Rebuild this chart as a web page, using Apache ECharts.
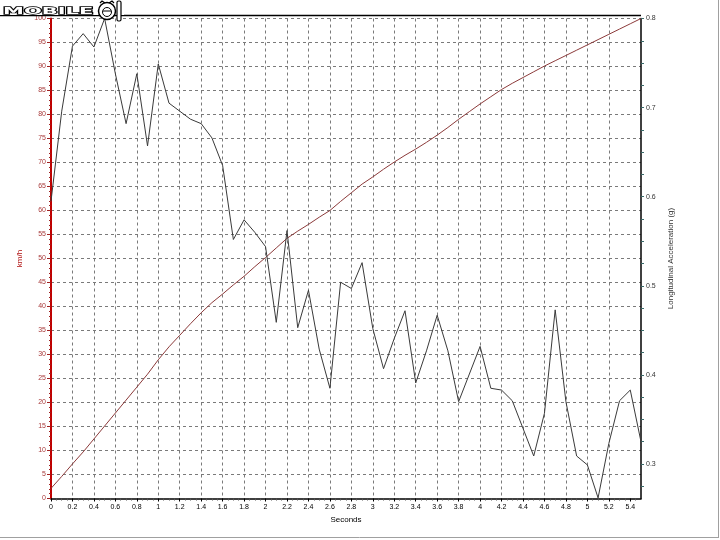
<!DOCTYPE html>
<html><head><meta charset="utf-8">
<script src="https://cdn.jsdelivr.net/npm/echarts@6/dist/echarts.min.js"></script>
<style>html,body{margin:0;padding:0;background:#fff}#c{width:720px;height:540px}</style>
</head><body><div id="c"></div>
<script>
// time samples (seconds)
const timeSec = [0,0.1,0.2,0.3,0.4,0.5,0.6,0.7,0.8,0.9,1.0,1.1,1.2,1.3,1.4,1.5,1.6,1.7,1.8,1.9,
  2.0,2.1,2.2,2.3,2.4,2.5,2.6,2.7,2.8,2.9,3.0,3.1,3.2,3.3,3.4,3.5,3.6,3.7,3.8,3.9,
  4.0,4.1,4.2,4.3,4.4,4.5,4.6,4.7,4.8,4.9,5.0,5.1,5.2,5.3,5.4,5.5];
// speed (km/h), left axis
const speedKmh = [2.1,4.6,7.2,9.7,12.4,15.1,17.8,20.5,23.2,25.9,28.9,31.6,34.0,36.4,38.7,40.8,42.6,44.5,46.3,48.3,
  50.2,52.2,54.2,55.7,57.1,58.6,60.0,61.9,63.7,65.5,67.0,68.6,70.1,71.5,72.8,74.2,75.7,77.3,79.0,80.6,
  82.2,83.7,85.2,86.5,87.7,88.9,90.1,91.2,92.3,93.4,94.5,95.6,96.7,97.8,98.9,100];
// longitudinal acceleration (g), right axis
const accelG = [0.595,0.696,0.769,0.783,0.768,0.800,0.738,0.682,0.738,0.657,0.749,0.705,0.696,0.687,0.682,0.666,0.635,0.552,0.574,0.560,
  0.544,0.459,0.562,0.453,0.495,0.429,0.385,0.504,0.497,0.526,0.452,0.407,0.441,0.472,0.391,0.427,0.467,0.427,0.370,0.401,
  0.432,0.385,0.383,0.371,0.340,0.309,0.357,0.473,0.370,0.309,0.299,0.262,0.323,0.371,0.383,0.325];
// tick labels
const xTickLabels = [0,0.2,0.4,0.6,0.8,1,1.2,1.4,1.6,1.8,2,2.2,2.4,2.6,2.8,3,3.2,3.4,3.6,3.8,4,4.2,4.4,4.6,4.8,5,5.2,5.4];
const rightTickLabels = [0.3,0.4,0.5,0.6,0.7,0.8];
const rightTickMarks = [0.275,0.3,0.325,0.35,0.375,0.4,0.425,0.45,0.475,0.5,0.525,0.55,0.575,0.6,0.625,0.65,0.675,0.7,0.725,0.75,0.775,0.8];

const FF = '"Liberation Sans", Arial, sans-serif';
const chart = echarts.init(document.getElementById('c'));
const gridLine = {show:true, lineStyle:{color:'#7a7a7a', width:1, type:[3,3]}};
chart.setOption({
  animation:false,
  backgroundColor:'#ffffff',
  grid:{left:51, right:79, top:18.5, bottom:41.5, containLabel:false},
  xAxis:{
    type:'value', min:0, max:5.5, interval:0.2,
    name:'Seconds', nameLocation:'middle', nameGap:16,
    nameTextStyle:{fontSize:8, color:'#000', fontFamily:FF},
    axisLine:{show:true, onZero:false, lineStyle:{color:'#000', width:1.5}},
    axisTick:{show:true, length:3, customValues:xTickLabels, lineStyle:{color:'#000'}},
    minorTick:{show:true, splitNumber:4, length:2, lineStyle:{color:'#555'}},
    axisLabel:{customValues:xTickLabels, fontSize:7, color:'#000', margin:5, fontFamily:FF},
    splitLine:Object.assign({showMinLine:false, showMaxLine:false}, gridLine)
  },
  yAxis:[{
    type:'value', min:0, max:100, interval:5, position:'left',
    name:'km/h', nameLocation:'middle', nameGap:18, nameRotate:90,
    nameTextStyle:{fontSize:8, color:'#b01010', fontFamily:FF},
    axisLine:{show:true, lineStyle:{color:'#c00000', width:2}},
    axisTick:{show:true, length:4, lineStyle:{color:'#a02020'}},
    minorTick:{show:true, splitNumber:5, length:2, lineStyle:{color:'#a02020'}},
    axisLabel:{fontSize:7, color:'#a83a3a', margin:5, fontFamily:FF},
    splitLine:Object.assign({showMinLine:false, showMaxLine:true}, gridLine)
  },{
    type:'value', min:0.2613, max:0.8, position:'right',
    name:'Longitudinal Acceleration (g)', nameLocation:'middle', nameGap:18, nameRotate:90,
    nameTextStyle:{fontSize:8, color:'#333', fontFamily:FF},
    axisLine:{show:true, lineStyle:{color:'#000', width:1.5}},
    axisTick:{show:true, length:3, customValues:rightTickMarks, lineStyle:{color:'#3a6a6a'}},
    axisLabel:{customValues:rightTickLabels, fontSize:7, color:'#333', margin:5, fontFamily:FF},
    splitLine:{show:false}
  }],
  series:[{
    type:'line', name:'Speed', yAxisIndex:0, showSymbol:false, symbol:'none',
    lineStyle:{color:'#8c3a3a', width:1}, z:3,
    data: timeSec.map((t,i)=>[t, speedKmh[i]])
  },{
    type:'line', name:'Accel', yAxisIndex:1, showSymbol:false, symbol:'none',
    lineStyle:{color:'#3a3a3a', width:1}, z:4,
    data: timeSec.map((t,i)=>[t, accelG[i]])
  }],
  graphic:[
    {type:'line', shape:{x1:0,y1:15.5,x2:641,y2:15.5}, style:{stroke:'#000', lineWidth:1.5}, z:10},
    {type:'line', shape:{x1:718.5,y1:0,x2:718.5,y2:538}, style:{stroke:'#a0a0a0', lineWidth:1}, z:10},
    {type:'line', shape:{x1:0,y1:537.5,x2:719,y2:537.5}, style:{stroke:'#a0a0a0', lineWidth:1}, z:10},
    {type:'rect', shape:{x:0,y:0,width:124,height:15}, style:{fill:'#fff'}, z:11},
    {type:'text', x:3, y:11.5, scaleX:2.1, scaleY:0.95, z:12,
      style:{text:'MOBILE', font:'bold 10px "DejaVu Sans"', fill:'#fff', stroke:'#000', lineWidth:1.4, verticalAlign:'middle'}},
    {type:'circle', shape:{cx:107, cy:11, r:8.5}, style:{fill:'#fff', stroke:'#000', lineWidth:1.5}, z:12},
    {type:'circle', shape:{cx:107, cy:12, r:4.5}, style:{fill:'#fff', stroke:'#000', lineWidth:1}, z:13},
    {type:'line', shape:{x1:103,y1:11,x2:111,y2:11}, style:{stroke:'#000', lineWidth:1}, z:13},
    {type:'polyline', shape:{points:[[100,3],[102,1],[105,3]]}, style:{stroke:'#000', fill:'none', lineWidth:1.2}, z:13},
    {type:'polyline', shape:{points:[[109,3],[112,1],[114,3]]}, style:{stroke:'#000', fill:'none', lineWidth:1.2}, z:13},
    {type:'rect', shape:{x:117,y:1,width:4,height:20, r:1.5}, style:{fill:'#fff', stroke:'#000', lineWidth:1.2}, z:12}
  ]
});
</script>
</body></html>
